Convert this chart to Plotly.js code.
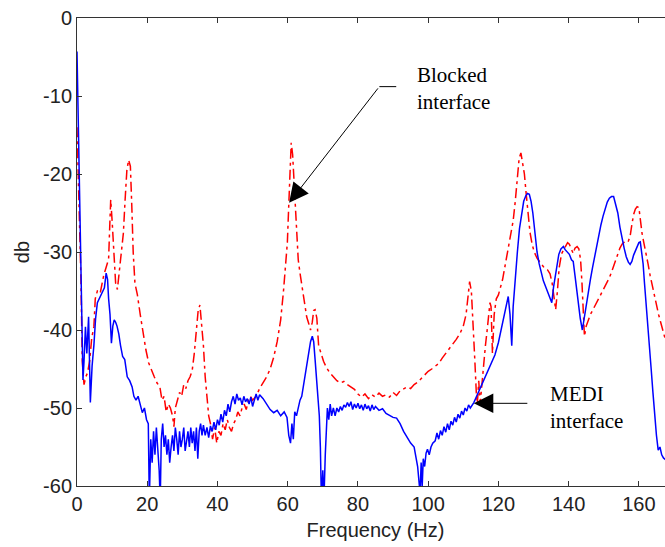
<!DOCTYPE html>
<html>
<head>
<meta charset="utf-8">
<script src="https://cdn.plot.ly/plotly-3.0.1.min.js"></script>
<style>
html,body{margin:0;padding:0;overflow:hidden;background:#fff;width:665px;height:547px;}
#chart{width:680px;height:547px;}
</style>
</head>
<body>
<div id="chart"></div>
<script>
// Blocked interface (red, dash-dot)
const blockedFreq = [0,0.4,0.8,1.1,1.5,2.0,2.5,3.0,3.6,4.2,4.8,5.2,5.8,6.6,7.6,8.6,9.0,9.3,9.6,10.0,10.5,11.0,11.5,12.0,12.6,13.2,13.7,14.2,14.7,15.2,15.6,16.0,16.5,17.2,18.0,18.8,19.6,20.4,21.2,22.0,22.8,23.6,24.2,24.8,25.4,26.0,26.6,27.2,27.6,28.0,28.6,29.2,29.8,30.4,31.0,31.6,32.2,32.8,33.4,34.0,34.5,35.0,35.5,36.0,36.5,37.0,37.5,38.0,38.6,39.2,39.8,40.4,41.0,41.6,42.2,42.8,43.4,44.0,44.6,45.2,45.8,46.4,47.0,47.6,48.2,48.8,49.4,50.0,51.0,52.0,53.0,54.0,55.0,56.0,57.0,58.0,58.8,59.4,59.9,60.3,60.7,61.0,61.4,61.8,62.2,62.6,63.0,63.6,64.2,64.8,65.4,66.0,66.5,67.0,67.4,67.8,68.3,68.8,69.5,70.2,71.0,72.0,73.0,74.0,75.0,76.0,77.0,78.0,79.0,80.0,81.0,82.0,83.0,84.0,85.0,86.0,87.0,88.0,89.0,90.0,91.0,92.0,93.0,94.0,95.0,96.0,97.0,98.0,99.0,100.0,101.0,102.0,103.0,104.0,105.0,106.0,107.0,108.0,109.0,110.0,110.8,111.4,111.8,112.3,112.8,113.3,113.7,114.0,114.4,114.8,115.3,115.8,116.3,116.8,117.3,117.6,117.9,118.3,118.8,119.4,120.0,120.6,121.2,121.8,122.4,123.0,123.6,124.2,124.8,125.4,125.9,126.4,126.9,127.4,127.9,128.4,129.0,129.6,130.2,131.0,132.0,133.0,134.0,134.7,135.3,135.8,136.3,136.8,137.3,138.0,138.6,139.2,139.7,140.2,140.8,141.3,141.8,142.4,142.9,143.4,143.8,144.1,144.5,145.0,145.6,146.2,146.8,147.4,148.0,148.6,149.2,149.8,150.4,151.0,151.6,152.2,152.8,153.4,154.0,154.6,155.2,155.8,156.4,157.0,157.5,158.0,158.5,159.0,159.5,160.0,160.4,160.9,161.4,162.0,162.6,163.2,163.8,164.4,165.0,165.6,166.2,166.8,167.4,168.0];
const blockedDb = [-14,-21,-25,-33,-44,-47,-46,-45.5,-44,-41,-39.6,-36,-35,-35.3,-33,-31.5,-30.9,-27,-23.3,-26,-31,-34,-34.8,-32.7,-30.1,-27.6,-23.3,-19.5,-18.2,-19,-24,-30,-34,-35.5,-38,-40.5,-42.5,-44.2,-45.2,-46,-46.8,-47.3,-49,-48.5,-50.5,-49.5,-50,-51,-52.4,-50,-49,-48,-48.5,-47,-47.5,-46.5,-46,-45.2,-43,-40,-37.5,-36.8,-39,-42,-46,-49,-51,-52,-54,-52.5,-54.5,-53,-53.5,-52,-52.8,-51.5,-52.5,-53,-52,-51.5,-50.5,-51,-50,-49.5,-50.2,-49,-48.5,-49,-48.5,-47.5,-46.8,-46,-45,-43.5,-41.5,-38.7,-35,-31.5,-28.8,-24,-19,-16,-17.5,-21,-25,-28,-31,-33,-35,-37,-38.3,-39.2,-40,-39,-37.5,-37.4,-38.5,-42,-43,-44,-44.8,-45.5,-46,-46.5,-46.8,-46.6,-47,-47.3,-47.6,-48.2,-48.6,-48.2,-48.8,-48.3,-48.6,-48.1,-48.5,-48.3,-48.6,-48,-48.4,-47.8,-47.5,-47.3,-47.5,-47,-46.7,-46.2,-45.8,-45.3,-45,-44.6,-44.3,-43.6,-43,-42.5,-41.8,-41.2,-40.5,-39.5,-38,-35.5,-33.8,-35,-39,-44,-48,-49.5,-46.5,-49.5,-47,-44,-42,-40,-38,-36.5,-37,-43,-38,-36,-35.5,-34.5,-33.5,-32,-30.5,-29.5,-28,-26,-23.5,-20.5,-18,-17.3,-18.5,-20,-22.5,-25,-27.5,-29,-30,-30.8,-31.4,-32,-32.3,-32.8,-34,-36,-37.4,-35,-32,-30.2,-29.7,-29.2,-28.8,-29,-29.8,-30.2,-29.5,-29.3,-29.6,-31,-34,-38,-40.8,-39.5,-38.7,-38,-37.5,-37,-36.5,-36,-35.5,-35,-34.5,-33.8,-33.3,-32.6,-31.8,-31,-30.2,-29.5,-29,-28.8,-28.5,-28.6,-28,-26.5,-25.2,-24.5,-24.2,-24.3,-26,-27.6,-28.8,-30,-31.5,-33,-34.3,-35.5,-36.8,-38,-39,-40,-41,-41.6,-42.2];

// MEDI interface (blue, solid)
const mediFreq = [0,0.2,0.4,0.6,0.8,1.1,1.4,1.7,2.0,2.4,2.8,3.3,3.8,4.3,4.8,5.3,5.8,6.3,6.8,7.3,7.8,8.3,8.7,9.0,9.4,9.8,10.2,10.6,11.0,11.4,11.9,12.4,13.0,13.6,14.3,15.0,15.7,16.2,16.8,17.4,18.0,18.6,19.2,19.8,20.3,20.6,21.0,21.4,21.8,22.2,22.6,23.0,23.4,23.7,24.0,24.4,24.8,25.2,25.6,26.0,26.4,26.8,27.2,27.6,28.0,28.4,28.8,29.2,29.6,30.0,30.4,30.8,31.2,31.6,32.0,32.4,32.8,33.2,33.6,34.0,34.4,34.8,35.2,35.6,36.0,36.5,37.0,37.5,38.0,38.5,39.0,39.5,40.0,40.5,41.0,41.5,42.0,42.5,43.0,43.5,44.0,44.5,45.0,45.5,46.0,46.5,47.0,47.5,48.0,48.5,49.0,49.5,50.0,50.5,51.0,51.5,52.0,53.0,54.0,55.0,56.0,57.0,58.0,59.0,59.8,60.3,60.8,61.2,61.6,62.0,62.5,63.0,63.5,64.0,64.5,65.0,65.5,66.0,66.5,67.0,67.4,67.8,68.2,68.6,69.0,69.3,69.6,70.0,70.3,70.7,71.0,71.3,71.7,72.1,72.5,73.0,73.5,74.0,74.5,75.0,75.5,76.0,76.5,77.0,77.5,78.0,78.5,79.0,79.5,80.0,80.5,81.0,81.5,82.0,82.5,83.0,83.5,84.0,84.5,85.0,86.0,87.0,88.0,89.0,90.0,91.0,92.0,93.0,94.0,95.0,96.0,96.6,97.0,97.4,97.7,98.0,98.3,98.6,99.0,99.4,99.8,100.3,100.8,101.3,102.0,102.5,103.0,103.5,104.0,104.5,105.0,105.5,106.0,106.5,107.0,107.5,108.0,108.5,109.0,109.5,110.0,110.5,111.0,111.5,112.0,113.0,114.0,115.0,116.0,117.0,118.0,119.0,120.0,121.0,122.0,122.8,123.3,123.8,124.2,124.8,125.4,126.0,126.6,127.2,127.8,128.3,128.8,129.3,129.8,130.4,131.0,131.6,132.2,132.8,133.4,134.0,134.6,135.2,135.7,136.2,136.7,137.2,137.8,138.5,139.0,139.6,140.2,140.8,141.3,141.8,142.3,142.8,143.3,143.9,144.4,145.0,145.6,146.2,146.8,147.4,148.0,148.6,149.2,149.8,150.4,151.0,151.6,152.2,152.8,153.4,154.0,154.6,155.2,155.8,156.4,157.0,157.5,158.0,158.5,159.0,159.5,160.0,160.4,160.8,161.2,161.6,162.0,162.5,163.0,163.5,164.0,164.5,165.0,165.5,166.0,166.5,167.0,167.5,168.0];
const mediDb = [-4.3,-9,-15,-20,-25.5,-30.6,-38,-46.4,-44,-39.6,-43,-38.3,-49.3,-44.6,-42,-38.5,-36.5,-36,-35.7,-35.2,-34.6,-32.7,-33.5,-36,-38,-41.7,-39.5,-38.7,-39,-39.5,-40.5,-42,-43.4,-43.8,-46,-46.5,-47.3,-48.5,-49,-48.5,-49.5,-50.6,-50,-51.5,-52,-62,-54,-57,-53,-56,-52.5,-55,-58,-62,-54,-52,-55,-53.5,-56,-54,-57,-55,-53.5,-55.5,-52.5,-54,-56,-53,-55,-54,-52.5,-55.5,-54,-53,-55,-52.5,-54.5,-53,-55.5,-52.5,-56.5,-53,-52,-53.5,-52.2,-53.5,-52.5,-53.8,-52.3,-53,-51.8,-52.8,-51.5,-52.2,-50.8,-51.8,-50.3,-51,-49.5,-50.5,-49.2,-48.5,-49.5,-48.2,-49,-48.7,-49.6,-48.5,-49.2,-48.8,-49.5,-48.6,-49.8,-48.8,-48.2,-49,-48.3,-48.8,-49.5,-50.2,-50.6,-50.3,-51,-50.5,-51.2,-53.5,-54.5,-52,-54,-50.5,-51,-50,-49,-48.5,-47,-45.5,-44,-43,-41.5,-40.8,-41.5,-43.8,-46,-48.5,-51,-55,-62,-58,-62,-56,-53,-50,-51.5,-49.5,-51,-50,-51,-50,-50.5,-49.8,-50.3,-49.6,-49.9,-49.3,-49.8,-49.2,-50.2,-49.5,-50,-49.4,-50.1,-49.6,-50.3,-49.5,-50.1,-49.7,-50.4,-49.6,-50.2,-49.8,-50.3,-50.1,-50.7,-51,-51.2,-51.3,-52,-53,-53.8,-54.5,-55,-56.5,-57.5,-59.5,-61,-57,-60,-56.5,-57.5,-55.8,-55.3,-56,-55,-54.5,-54.2,-53.2,-54,-52.9,-53.5,-52.4,-53.1,-52,-52.8,-51.7,-52.2,-51.2,-51.8,-50.8,-51.3,-50.4,-50.9,-50,-50.4,-49.6,-50,-49.3,-48.3,-47.3,-46.2,-45.2,-44.3,-43.2,-41.6,-39.6,-37.6,-35.7,-38,-42,-37,-33,-30,-27,-25,-23.5,-22.8,-22.5,-22.6,-23.5,-25,-27.5,-30,-31.5,-32.8,-33.7,-34.4,-35.2,-35.8,-36.5,-34.5,-33,-31.5,-30.3,-29.6,-29.3,-29.7,-30,-30.3,-31,-31.2,-33,-35,-36.5,-38.5,-40,-38.5,-36.5,-35,-33.5,-32,-30.5,-29,-27.8,-26.5,-25.4,-24.4,-23.6,-23.1,-22.9,-22.9,-23.8,-25,-26.8,-28.3,-29.5,-30.6,-31.3,-31.6,-31.2,-30.4,-29.8,-29.2,-28.8,-28.7,-30,-31.5,-34,-36.5,-40,-42,-45,-48,-51,-53.5,-55.4,-55,-56,-56.4,-56.6,-56.8];

const xTicks = [0,20,40,60,80,100,120,140,160];
const yTicks = [0,-10,-20,-30,-40,-50,-60];

const tickFont = {family: 'Liberation Sans, Arial, sans-serif', size: 20, color: '#222'};
const noteFont = {family: 'Liberation Serif, Times New Roman, serif', size: 21, color: '#000'};

const traces = [
  {x: blockedFreq, y: blockedDb, type: 'scatter', mode: 'lines', name: 'Blocked interface',
   line: {color: '#ff0000', width: 1.5, dash: '10px,4px,3px,4px'}},
  {x: mediFreq, y: mediDb, type: 'scatter', mode: 'lines', name: 'MEDI interface',
   line: {color: '#0000ff', width: 1.5}}
];

const axisCommon = {showline: true, linecolor: '#333', linewidth: 1, mirror: 'ticks',
  ticks: 'inside', ticklen: 5, tickcolor: '#333', showgrid: false, zeroline: false,
  tickfont: tickFont};

const layout = {
  width: 680, height: 547,
  margin: {l: 77, r: 6, t: 18, b: 61},
  paper_bgcolor: '#fff', plot_bgcolor: '#fff',
  showlegend: false,
  xaxis: Object.assign({}, axisCommon, {range: [0, 170], tickvals: xTicks, ticktext: xTicks.map(String),
    title: {text: 'Frequency (Hz)', font: tickFont, standoff: 8}}),
  yaxis: Object.assign({}, axisCommon, {range: [-60, 0], tickvals: yTicks, ticktext: yTicks.map(String),
    title: {text: 'db', font: tickFont, standoff: 8}}),
  shapes: [
    {type: 'line', xref: 'x', yref: 'y', x0: 86.1, x1: 90.9, y0: -8.8, y1: -8.8,
     line: {color: '#000', width: 1}}
  ],
  annotations: [
    {xref: 'x', yref: 'y', x: 96.3, y: -9.1, xanchor: 'left', yanchor: 'middle', align: 'left',
     text: 'Blocked<br>interface', showarrow: false, font: noteFont},
    {xref: 'x', yref: 'y', x: 60.4, y: -23.7, text: '', showarrow: true, arrowhead: 2,
     arrowsize: 3.9, arrowwidth: 1, arrowcolor: '#000', ax: 90, ay: -116},
    {xref: 'x', yref: 'y', x: 113.0, y: -49.4, text: '', showarrow: true, arrowhead: 2,
     arrowsize: 3.9, arrowwidth: 1, arrowcolor: '#000', ax: 55, ay: 0},
    {xref: 'x', yref: 'y', x: 134.2, y: -49.9, xanchor: 'left', yanchor: 'middle', align: 'left',
     text: 'MEDI<br>interface', showarrow: false, font: noteFont}
  ]
};

Plotly.newPlot('chart', traces, layout, {displayModeBar: false, staticPlot: true});
</script>
</body>
</html>
